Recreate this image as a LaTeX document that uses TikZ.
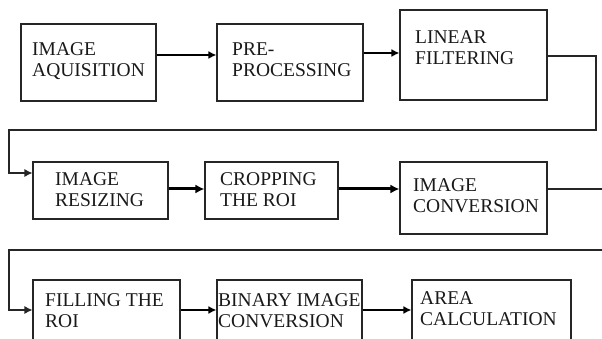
\documentclass[tikz,border=0pt]{standalone}
\usepackage{fontspec}
\setmainfont{Liberation Serif}
\usetikzlibrary{arrows.meta}
\begin{document}
\begin{tikzpicture}[x=1pt,y=-1pt,
  box/.style={draw=black!85,line width=1.1pt,inner sep=0pt},
  txt/.style={anchor=north west,inner sep=0pt,align=left,font=\fontsize{19.5}{21}\selectfont,text=black!90},
  arr/.style={line width=2pt,-{Latex[length=8pt,width=8pt]}},
  arrb/.style={line width=3pt,-{Latex[length=9pt,width=9pt]}},
  conn/.style={line width=1.1pt,draw=black!85},
  connarr/.style={conn,-{Latex[length=8pt,width=8pt]}}]
\useasboundingbox (0,0) rectangle (602,339);
\clip (0,0) rectangle (602,339);
% boxes
\node[box,minimum width=135pt,minimum height=77pt] (b1) at (88.5,62.5) {};
\node[box,minimum width=146pt,minimum height=77pt] (b2) at (290,62.5) {};
\node[box,minimum width=147pt,minimum height=90pt] (b3) at (473.5,55) {};
\node[box,minimum width=135pt,minimum height=57pt] (b4) at (100.5,190.5) {};
\node[box,minimum width=133pt,minimum height=57pt] (b5) at (271.5,190.5) {};
\node[box,minimum width=147pt,minimum height=72pt] (b6) at (473.5,198) {};
\node[box,minimum width=147pt,minimum height=80pt] (b7) at (106.5,320) {};
\node[box,minimum width=145pt,minimum height=80pt] (b8) at (289.5,320) {};
\node[box,minimum width=159pt,minimum height=80pt] (b9) at (491.5,320) {};
% texts
\node[txt] (t1) at (32,42.2) {IMAGE\\AQUISITION};
\node[txt] (t2) at (232,42.2) {PRE-\\PROCESSING};
\node[txt] (t3) at (415,30.2) {LINEAR\\FILTERING};
\node[txt] (t4) at (55,172.2) {IMAGE\\RESIZING};
\node[txt] (t5) at (220,172.2) {CROPPING\\THE ROI};
\node[txt] (t6) at (413,178.2) {IMAGE\\CONVERSION};
\node[txt] (t7) at (45,293.2) {FILLING THE\\ROI};
\node[txt] (t8) at (218,293.2) {BINARY IMAGE\\CONVERSION};
\node[txt] (t9) at (420,291.2) {AREA\\CALCULATION};
% connector coordinates
\coordinate (r1a) at (596,56);
\coordinate (r1b) at (596,130);
\coordinate (r1c) at (9,130);
\coordinate (r1d) at (9,173);
\coordinate (r2a) at (602,189);
\coordinate (r3a) at (602,250);
\coordinate (r3b) at (9,250);
\coordinate (r3c) at (9,310);
% arrows row 1
\draw[arr] (b1.east |- 0,55) -- (b2.west |- 0,55);
\draw[arr] (b2.east |- 0,53) -- (b3.west |- 0,53);
\draw[connarr] (b3.east |- r1a) -- (r1a) -- (r1b) -- (r1c) -- (r1d) -- (b4.west |- r1d);
% row 2
\draw[arrb] (b4.east |- 0,189) -- (b5.west |- 0,189);
\draw[arrb] (b5.east |- 0,189) -- (b6.west |- 0,189);
\draw[conn] (b6.east |- r2a) -- (r2a);
% row 3
\draw[connarr] (r3a) -- (r3b) -- (r3c) -- (b7.west |- r3c);
\draw[arr] (b7.east |- 0,310) -- (b8.west |- 0,310);
\draw[arr] (b8.east |- 0,310) -- (b9.west |- 0,310);
\end{tikzpicture}
\end{document}
